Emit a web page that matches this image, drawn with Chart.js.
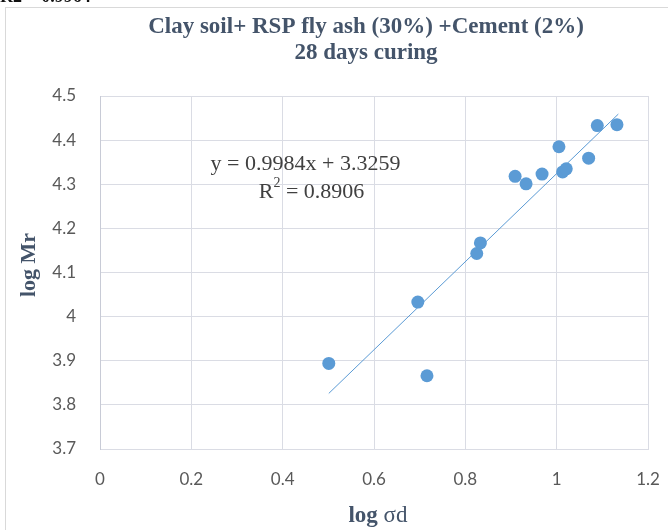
<!DOCTYPE html>
<html>
<head>
<meta charset="utf-8">
<script src="https://cdn.jsdelivr.net/npm/chart.js@4.4.1/dist/chart.umd.min.js"></script>
<style>
  html, body { margin: 0; padding: 0; background: #fff; }
  #c { display: block; }
</style>
</head>
<body>
<canvas id="c" width="668" height="530"></canvas>
<script>
  // values
  const logSd = [0.501, 0.696, 0.716, 0.825, 0.833, 0.909, 0.933, 0.968, 1.005, 1.013, 1.021, 1.070, 1.089, 1.132];
  const logMr = [3.894, 4.033, 3.866, 4.143, 4.167, 4.318, 4.301, 4.323, 4.385, 4.328, 4.335, 4.359, 4.433, 4.435];
  const trendX = [0.501, 1.135];
  const trendY = [3.826, 4.459];
  const xTicks = [0, 0.2, 0.4, 0.6, 0.8, 1, 1.2];
  const yTicks = [3.7, 3.8, 3.9, 4, 4.1, 4.2, 4.3, 4.4, 4.5];

  const titleLines = ["Clay soil+ RSP fly ash (30%) +Cement (2%)", "28 days curing"];
  const eqLine = "y = 0.9984x + 3.3259";
  const r2Value = " = 0.8906";

  const blue = "#5b9bd5";
  const slate = "#44546a";
  const tickGrey = "#595959";
  const gridGrey = "#dadce4";
  const serif = "'Liberation Serif', 'DejaVu Serif', serif";

  const decorations = {
    id: "decorations",
    beforeDraw(chart) {
      const ctx = chart.ctx;
      ctx.save();
      ctx.fillStyle = "#fff";
      ctx.fillRect(0, 0, chart.width, chart.height);
      // cut-off text above the frame
      ctx.fillStyle = "#111";
      ctx.font = "bold 18px " + serif;
      ctx.textBaseline = "alphabetic";
      ctx.fillText("R2 = 0.9964", 0, 2);
      // chart frame
      ctx.strokeStyle = "#d9d9d9";
      ctx.lineWidth = 1;
      ctx.strokeRect(5.5, 7.5, chart.width + 10, chart.height + 10);
      ctx.restore();
    },
    afterDraw(chart) {
      const ctx = chart.ctx;
      const xs = chart.scales.x, ys = chart.scales.y;
      ctx.save();
      // title
      ctx.fillStyle = slate;
      ctx.textAlign = "center";
      ctx.textBaseline = "middle";
      ctx.font = "bold 23px " + serif;
      ctx.fillText(titleLines[0], 366, 27);
      ctx.fillText(titleLines[1], 366, 53);

      // y axis title
      ctx.save();
      ctx.translate(29, 265);
      ctx.rotate(-Math.PI / 2);
      ctx.font = "bold 22px " + serif;
      ctx.fillText("log Mr", 0, 0);
      ctx.restore();

      // x axis title: bold "log", regular "σd"
      ctx.textAlign = "left";
      const boldF = "bold 23px " + serif, regF = "23px " + serif;
      ctx.font = boldF;
      const w1 = ctx.measureText("log ").width;
      ctx.font = regF;
      const w2 = ctx.measureText("σd").width;
      const x0 = 378 - (w1 + w2) / 2;
      ctx.font = boldF;
      ctx.fillText("log ", x0, 516);
      ctx.font = regF;
      ctx.fillText("σd", x0 + w1, 516);

      // trendline equation
      ctx.fillStyle = "#404040";
      ctx.textAlign = "center";
      ctx.font = "22px " + serif;
      const cx = xs.getPixelForValue(0.45);
      ctx.fillText(eqLine, cx, ys.getPixelForValue(4.345));
      const ly = ys.getPixelForValue(4.283);
      const rW = ctx.measureText("R").width;
      const vW = ctx.measureText(r2Value).width;
      ctx.font = "14px " + serif;
      const sW = ctx.measureText("2").width;
      const start = cx + 6 - (rW + sW + vW) / 2;
      ctx.textAlign = "left";
      ctx.font = "22px " + serif;
      ctx.fillText("R", start, ly);
      ctx.font = "14px " + serif;
      ctx.fillText("2", start + rW, ly - 8);
      ctx.font = "22px " + serif;
      ctx.fillText(r2Value, start + rW + sW, ly);
      ctx.restore();
    }
  };

  new Chart(document.getElementById("c"), {
    type: "scatter",
    data: {
      datasets: [
        {
          label: "points",
          data: logSd.map((x, i) => ({ x, y: logMr[i] })),
          backgroundColor: blue,
          borderWidth: 0,
          pointRadius: 6.5,
          order: 1
        },
        {
          label: "trend",
          type: "line",
          data: trendX.map((x, i) => ({ x, y: trendY[i] })),
          borderColor: blue,
          borderWidth: 1,
          pointRadius: 0,
          fill: false,
          order: 2
        }
      ]
    },
    options: {
      responsive: false,
      animation: false,
      devicePixelRatio: 1,
      layout: { padding: { left: 0, top: 96, right: 20, bottom: 0 } },
      plugins: { legend: { display: false }, tooltip: { enabled: false } },
      scales: {
        x: {
          type: "linear",
          min: 0,
          max: 1.2,
          afterBuildTicks: (s) => { s.ticks = xTicks.map((v) => ({ value: v })); },
          afterFit: (s) => { s.height = 81; s.paddingLeft = 0; s.paddingRight = 0; },
          grid: { color: gridGrey, drawTicks: false },
          border: { color: gridGrey },
          ticks: {
            color: tickGrey,
            padding: 20,
            font: { family: "Lato, 'Open Sans', sans-serif", size: 17 },
            callback: (v) => String(+v.toFixed(1))
          }
        },
        y: {
          type: "linear",
          min: 3.7,
          max: 4.5,
          afterBuildTicks: (s) => { s.ticks = yTicks.map((v) => ({ value: v })); },
          afterFit: (s) => { s.width = 100; s.paddingTop = 0; s.paddingBottom = 0; },
          grid: { color: gridGrey, drawTicks: false },
          border: { color: "#c8cbd6" },
          ticks: {
            color: tickGrey,
            padding: 24,
            font: { family: "Lato, 'Open Sans', sans-serif", size: 17 },
            callback: (v) => String(+v.toFixed(1))
          }
        }
      }
    },
    plugins: [decorations]
  });
</script>
</body>
</html>
